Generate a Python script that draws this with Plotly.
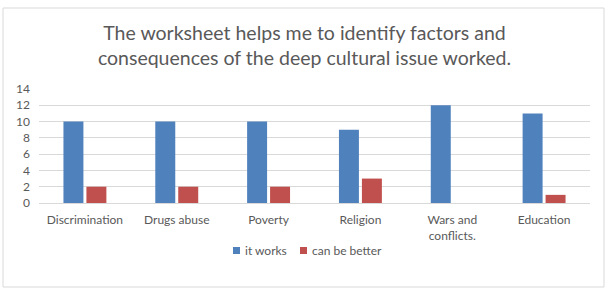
import plotly.graph_objects as go

categories = ["Discrimination", "Drugs abuse", "Poverty", "Religion", "Wars and<br>conflicts.", "Education"]
it_works = [10, 10, 10, 9, 12, 11]
can_be_better = [2, 2, 2, 3, 0, 1]
y_ticks = [0, 2, 4, 6, 8, 10, 12, 14]
series_names = ["it works", "can be better"]

FONT = "Lato, 'Open Sans', sans-serif"
GREY = "#595959"
BLUE = "#4f81bd"
RED = "#c0504d"

W, H = 609, 292
L, R, T, B = 39, 19, 89, 89
pw, ph = W - L - R, H - T - B

def px_x(x):
    return (x - L) / pw

def px_y(y):
    return (H - B - y) / ph

def no_zero(vals):
    # zero-height bars are not drawn in the original
    return [v if v else None for v in vals]

fig = go.Figure()
fig.add_trace(go.Bar(x=categories, y=no_zero(it_works), name=series_names[0], marker_color=BLUE,
                     marker_line_width=0, showlegend=False))
fig.add_trace(go.Bar(x=categories, y=no_zero(can_be_better), name=series_names[1], marker_color=RED,
                     marker_line_width=0, showlegend=False))

# legend drawn as swatches + labels (Excel-style compact legend)
legend_items = [(233, BLUE, series_names[0]), (300, RED, series_names[1])]
shapes = [dict(type="rect", xref="paper", yref="paper",
               x0=px_x(3), x1=px_x(604), y0=px_y(287), y1=px_y(8),
               line=dict(color="#d9d9d9", width=1), fillcolor="rgba(0,0,0,0)", layer="below")]
annotations = []
for x0, col, name in legend_items:
    shapes.append(dict(type="rect", xref="paper", yref="paper",
                       x0=px_x(x0), x1=px_x(x0 + 7), y0=px_y(254), y1=px_y(247),
                       line=dict(width=0), fillcolor=col))
    annotations.append(dict(xref="paper", yref="paper", x=px_x(x0 + 10), y=px_y(250.5),
                            xanchor="left", yanchor="middle", text=name, showarrow=False,
                            font=dict(family=FONT, size=12, color=GREY)))

fig.update_layout(
    width=W, height=H,
    margin=dict(l=L, r=R, t=T, b=B),
    paper_bgcolor="white", plot_bgcolor="white",
    barmode="group", bargap=0.5, bargroupgap=0.13,
    font=dict(family=FONT, color=GREY, size=12),
    title=dict(
        text="The worksheet helps me to identify factors and<br>consequences of the deep cultural issue worked.",
        x=0.5, xanchor="center", xref="container",
        y=1 - 40 / H, yanchor="middle", yref="container",
        font=dict(family=FONT, size=19.5, color=GREY),
    ),
    showlegend=False,
    xaxis=dict(showgrid=False, ticks="", showline=True, linecolor="#d9d9d9", linewidth=1,
               tickfont=dict(size=12, color=GREY), ticklabelstandoff=6),
    yaxis=dict(range=[0, 14], tickvals=y_ticks, showgrid=True, gridcolor="#d9d9d9", gridwidth=1,
               zeroline=False, ticks="", showline=False, tickfont=dict(size=12, color=GREY),
               ticklabelstandoff=8),
    shapes=shapes,
    annotations=annotations,
)

fig.write_html("out.html")
